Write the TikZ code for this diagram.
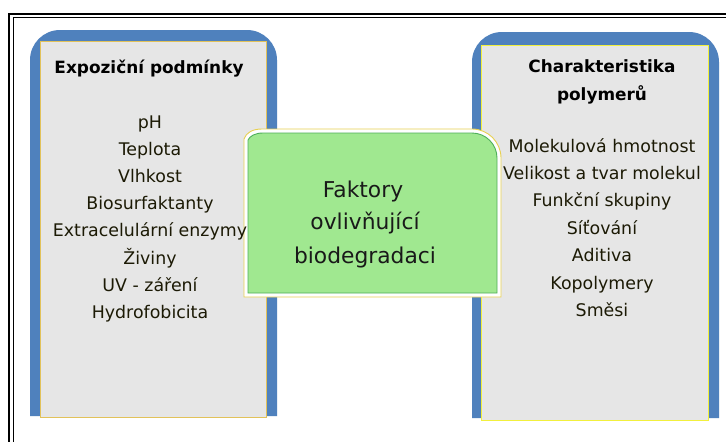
\documentclass[tikz,border=0pt]{standalone}
\usepackage{fontspec}
\setmainfont{DejaVu Sans}
\definecolor{pblue}{HTML}{4F81BD}
\definecolor{pgray}{HTML}{E6E6E6}
\definecolor{pgold}{HTML}{E2C25A}
\definecolor{pyel}{HTML}{F2F03C}
\definecolor{pgreen}{HTML}{A0E890}
\definecolor{pgreenb}{HTML}{4FAF5A}
\definecolor{ptext}{HTML}{1C1A05}
\begin{document}
\begin{tikzpicture}[x=1pt,y=-1pt,
  item/.style={font=\fontsize{17.4}{20}\selectfont, text=ptext, inner sep=0pt, anchor=base},
  ttl/.style={font=\fontsize{16.9}{20}\selectfont\bfseries, text=black, inner sep=0pt, anchor=base},
  ctr/.style={font=\fontsize{21.8}{25}\selectfont, text=black!90, inner sep=0pt, anchor=base}]
\useasboundingbox (0,0) rectangle (726,442);
\fill[white] (0,0) rectangle (726,442);
% frame (top and left only)
\draw[line width=2.2pt] (9,442) -- (9,14) -- (726,14);
\draw[line width=0.9pt] (13.5,442) -- (13.5,17.8) -- (726,17.8);
% left panel
\fill[pblue] (30,416) -- (30,60) arc[start angle=180,end angle=270,radius=30] -- (247,30) arc[start angle=270,end angle=360,radius=30] -- (277,416) -- cycle;
\draw[pgold, fill=pgray, line width=0.8pt] (40,41) rectangle (266,417);
% right panel
\fill[pblue] (472,418) -- (472,62) arc[start angle=180,end angle=270,radius=30] -- (689,32) arc[start angle=270,end angle=360,radius=30] -- (719,418) -- cycle;
\draw[pyel, fill=pgray, line width=1pt] (481,45) rectangle (708,420);
% center box halo
\draw[pgold!70!pyel, fill=white, line width=0.9pt] (244,297) -- (244,139) .. controls (246,133) and (252,129) .. (262,129) -- (472,129) arc[start angle=270,end angle=360,radius=29] -- (501,297) -- cycle;
% center box
\draw[pgreenb, fill=pgreen, line width=0.9pt] (248,293) -- (248,140) .. controls (250,136) and (255,133) .. (263,133) -- (472,133) arc[start angle=270,end angle=360,radius=25] -- (497,293) -- cycle;
% left texts
\node[ttl] (lt) at (149,73.3) {Expoziční podmínky};
\node[item] (l1) at (150,128.5) {pH};
\node[item] (l2) at (150,155.3) {Teplota};
\node[item] (l3) at (150,182) {Vlhkost};
\node[item] (l4) at (150,209) {Biosurfaktanty};
\node[item] (l5) at (150,236.5) {Extracelulární enzymy};
\node[item] (l6) at (150,264) {Živiny};
\node[item] (l7) at (150,291) {UV - záření};
\node[item] (l8) at (150,318) {Hydrofobicita};
% right texts
\node[ttl] (rt1) at (602,72.5) {Charakteristika};
\node[ttl] (rt2) at (602,100) {polymerů};
\node[item] (r1) at (602,152) {Molekulová hmotnost};
\node[item] (r2) at (602,179) {Velikost a tvar molekul};
\node[item] (r3) at (602,206.5) {Funkční skupiny};
\node[item] (r4) at (602,234) {Síťování};
\node[item] (r5) at (602,261.5) {Aditiva};
\node[item] (r6) at (602,289) {Kopolymery};
\node[item] (r7) at (602,316.5) {Směsi};
% center texts
\node[ctr] (c1) at (363,197.3) {Faktory};
\node[ctr] (c2) at (365,229.8) {ovlivňující};
\node[ctr] (c3) at (365,263.3) {biodegradaci};
\end{tikzpicture}
\end{document}
